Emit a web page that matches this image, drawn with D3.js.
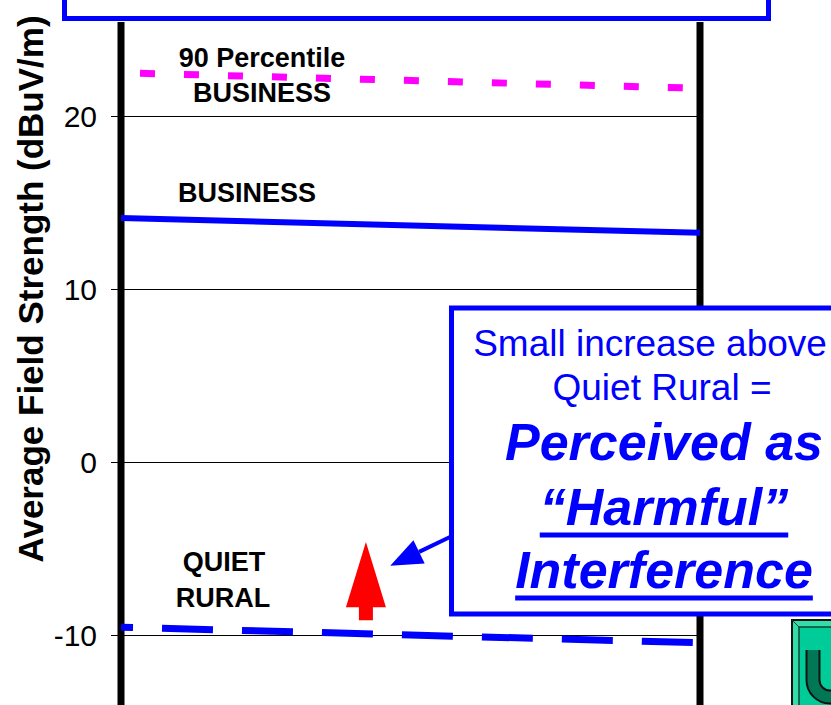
<!DOCTYPE html>
<html>
<head>
<meta charset="utf-8">
<script src="https://cdn.jsdelivr.net/npm/d3@7"></script>
<style>
  html, body { margin: 0; padding: 0; background: #fff; }
  svg { display: block; font-family: Arial, "Liberation Sans", sans-serif; }
</style>
</head>
<body>
<div class="diagram"></div>
<script>
// values (dBuV/m), at the two ends of the plot
const xPos = [0, 1];
const business90 = [22.5, 21.6];
const business = [14.1, 13.25];
const quietRural = [-9.55, -10.45];
const yTicks = [-10, 0, 10, 20];
const yTitle = "Average Field Strength (dBuV/m)";
const boxLines = ["Small increase above", "Quiet Rural =", "Perceived as", "\u201CHarmful\u201D", "Interference"];

const W = 831, H = 705;
const svg = d3.select(".diagram")
  .append("svg")
    .attr("width", W)
    .attr("height", H);

// scales
const x = d3.scaleLinear().domain([0, 1]).range([121, 700]);
const y = d3.scaleLinear().domain([-10, 20]).range([635, 116]);

// gridlines
svg.append("g")
  .selectAll("line")
  .data(yTicks)
  .join("line")
    .attr("x1", x(0))
    .attr("x2", x(1))
    .attr("y1", d => Math.round(y(d)) + 0.5)
    .attr("y2", d => Math.round(y(d)) + 0.5)
    .attr("stroke", "#000")
    .attr("stroke-width", 1);

// y axis
const yAxis = svg.append("g")
  .attr("transform", `translate(${x(0)}, 0)`)
  .call(d3.axisLeft(y).tickValues(yTicks).tickSize(10).tickPadding(14).tickFormat(d => String(d)));
yAxis.select(".domain").remove();
yAxis.selectAll(".tick line").attr("stroke", "#000").attr("stroke-width", 1);
yAxis.selectAll(".tick text")
  .attr("fill", "#000")
  .style("font-size", "30px")
  .style("font-family", "Arial, 'Liberation Sans', sans-serif")
  .attr("dy", "0.36em");

svg.append("text")
  .attr("transform", "translate(43, 289) rotate(-90)")
  .attr("text-anchor", "middle")
  .style("font-size", "35px")
  .style("font-weight", "bold")
  .text(yTitle);

// thick side bars
[0, 1].forEach(v => {
  svg.append("line")
    .attr("x1", x(v)).attr("x2", x(v))
    .attr("y1", 22).attr("y2", H)
    .attr("stroke", "#000")
    .attr("stroke-width", 7);
});

// top box (title box, mostly out of view)
svg.append("rect")
  .attr("x", 64.5).attr("y", -60)
  .attr("width", 704).attr("height", 78.5)
  .attr("fill", "#fff")
  .attr("stroke", "#0000ff")
  .attr("stroke-width", 5);

// lines
const line = d3.line()
  .x((d, i) => x(xPos[i]))
  .y(d => y(d));

svg.append("path")
  .datum(business90)
  .attr("fill", "none")
  .attr("stroke", "#ff00ff")
  .attr("stroke-width", 7)
  .attr("stroke-dasharray", "15 29")
  .attr("stroke-dashoffset", 25)
  .attr("d", line);

svg.append("path")
  .datum(business)
  .attr("fill", "none")
  .attr("stroke", "#0000ff")
  .attr("stroke-width", 6)
  .attr("d", line);

svg.append("path")
  .datum(quietRural)
  .attr("fill", "none")
  .attr("stroke", "#0000ff")
  .attr("stroke-width", 7)
  .attr("stroke-dasharray", "51 29")
  .attr("stroke-dashoffset", 39)
  .attr("d", line);

// series labels
const labels = svg.append("g")
  .attr("text-anchor", "middle")
  .style("font-size", "27px")
  .style("font-weight", "bold");
labels.append("text").attr("x", 262).attr("y", 67).text("90 Percentile");
labels.append("text").attr("x", 262).attr("y", 102).text("BUSINESS");
labels.append("text").attr("x", 247).attr("y", 202).text("BUSINESS");
labels.append("text").attr("x", 224).attr("y", 571).text("QUIET");
labels.append("text").attr("x", 223).attr("y", 607).text("RURAL");

// red up arrow (increase above quiet rural)
const ax = x(0.423), aBot = y(-9.15), aTop = y(-4.62), aHead = y(-8.4);
svg.append("path")
  .attr("fill", "#ff0000")
  .attr("d", `M${ax - 7},${aBot} L${ax - 7},${aHead} L${ax - 20},${aHead} L${ax},${aTop} L${ax + 20},${aHead} L${ax + 7},${aHead} L${ax + 7},${aBot} Z`);

// callout pointer
const tipX = x(0.465), tipY = y(-6.0);
const fromX = 450, fromY = 537;
const ang = Math.atan2(fromY - tipY, fromX - tipX);
const hl = 32, hw = 13;
const bx = tipX + hl * Math.cos(ang), by = tipY + hl * Math.sin(ang);
svg.append("line")
  .attr("x1", fromX).attr("y1", fromY)
  .attr("x2", bx).attr("y2", by)
  .attr("stroke", "#0000ff")
  .attr("stroke-width", 4);
svg.append("path")
  .attr("fill", "#0000ff")
  .attr("d", `M${tipX},${tipY} L${bx - hw * Math.sin(ang)},${by + hw * Math.cos(ang)} L${bx + hw * Math.sin(ang)},${by - hw * Math.cos(ang)} Z`);

// callout box
svg.append("rect")
  .attr("x", 451.5).attr("y", 308)
  .attr("width", 420).attr("height", 306)
  .attr("fill", "#fff")
  .attr("stroke", "#0000ff")
  .attr("stroke-width", 5);

const box = svg.append("g")
  .attr("text-anchor", "middle")
  .attr("fill", "#0000ff");
const boxSpec = [
  {cx: 650, by: 356, size: 37, bold: false, ul: false},
  {cx: 662, by: 400, size: 37, bold: false, ul: false},
  {cx: 664, by: 460, size: 52, bold: true, ul: false},
  {cx: 664, by: 525, size: 52, bold: true, ul: true},
  {cx: 664, by: 588, size: 52, bold: true, ul: true}
];
boxLines.forEach((t, i) => {
  const s = boxSpec[i];
  const txt = box.append("text")
    .attr("x", s.cx).attr("y", s.by)
    .style("font-size", s.size + "px")
    .style("font-weight", s.bold ? "bold" : "normal")
    .style("font-style", s.bold ? "italic" : "normal")
    .text(t);
  if (s.ul) {
    const w = txt.node().getComputedTextLength();
    box.append("line")
      .attr("x1", s.cx - w / 2).attr("x2", s.cx + w / 2)
      .attr("y1", s.by + 10).attr("y2", s.by + 10)
      .attr("stroke", "#0000ff")
      .attr("stroke-width", 5);
  }
});

// green logo block, bottom right
const logo = svg.append("g").attr("transform", "translate(792, 620)");
logo.append("rect").attr("width", 80).attr("height", 100)
  .attr("fill", "#33ddaa").attr("stroke", "#111").attr("stroke-width", 2);
logo.append("rect").attr("x", 7).attr("y", 7).attr("width", 66).attr("height", 86)
  .attr("fill", "#00cc99").attr("stroke", "#114433").attr("stroke-width", 1.5);
logo.append("line").attr("x1", 0).attr("y1", 0).attr("x2", 7).attr("y2", 7).attr("stroke", "#114433");
logo.append("path")
  .attr("d", "M21,30 L21,60 A17,17 0 0 0 55,60 L55,30")
  .attr("fill", "none")
  .attr("stroke", "#111")
  .attr("stroke-width", 15);
logo.append("path")
  .attr("d", "M21,30 L21,60 A17,17 0 0 0 55,60 L55,30")
  .attr("fill", "none")
  .attr("stroke", "#007755")
  .attr("stroke-width", 11);
</script>
</body>
</html>
